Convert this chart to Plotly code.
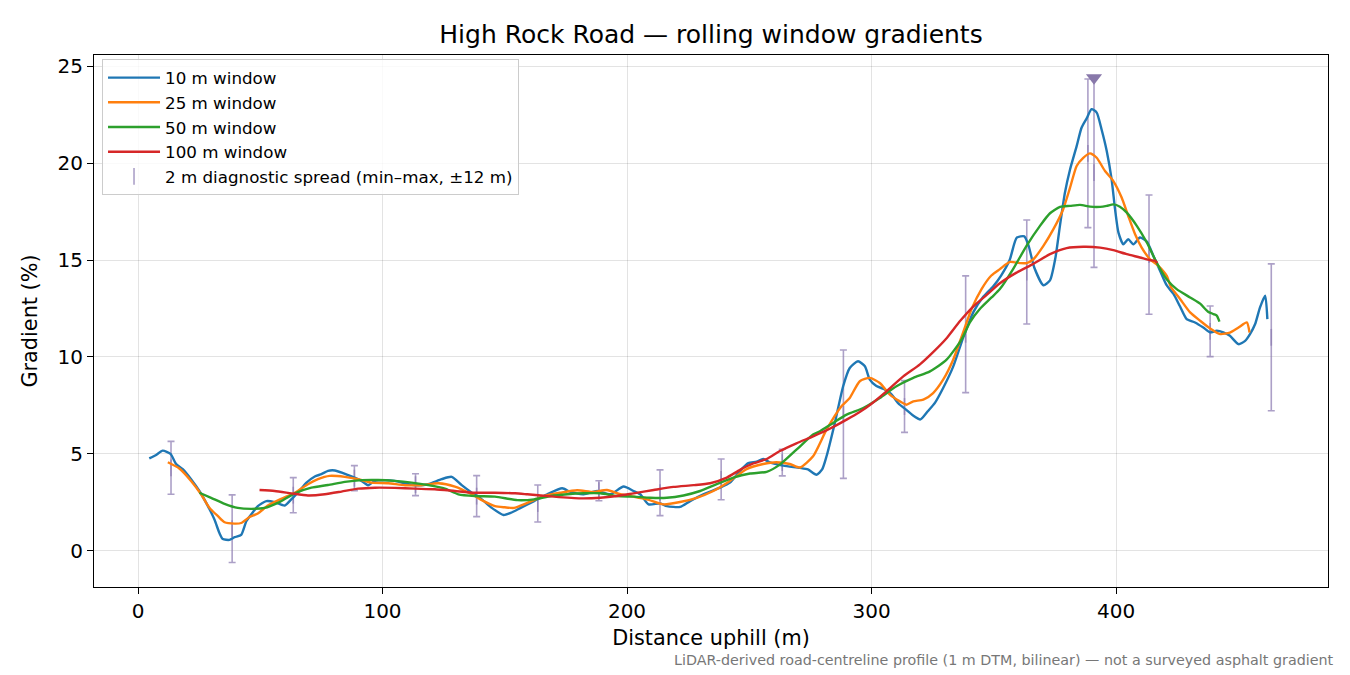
import plotly.graph_objects as go

# ---------------- data ----------------
dist_10 = [4.6, 7.4, 10.1, 13.3, 15.6, 18.3, 21.7, 25.1, 28.6, 31.3, 33.3, 34.7, 37.4, 39.5, 42.2, 44.3,
           46.3, 49.0, 52.5, 55.9, 60.0, 62.7, 65.4, 68.9, 72.3, 75.0, 77.7, 80.5, 83.9, 87.3, 91.4, 94.1,
           96.9, 101, 105, 110.5, 114.6, 118.7, 124.2, 128.3, 132.4, 136.5, 140.6, 144.7, 149.5, 152.4,
           156.5, 162, 167.4, 173.5, 176.9, 182.3, 187.8, 193.2, 198.6, 202.7, 205.4, 208.8, 213.6, 216.3,
           221.7, 225.8, 231.2, 238, 242.1, 246.2, 249.6, 253, 255.7, 258.4, 263.9, 270.7, 274, 277.5,
           279.8, 281.6, 285, 288.4, 291.1, 294.5, 297.3, 299.3, 302, 305, 308, 311, 314, 317, 320, 323,
           326, 329.3, 333.4, 337.5, 341.6, 345.7, 349.8, 353, 356.5, 359.4, 362.5, 364.2, 366.6, 370.3,
           373, 375.2, 377.1, 379.1, 381.2, 383.9, 385.9, 388, 390, 392.1, 394.1, 396.2, 398.2, 399.6,
           401, 403, 405, 407.1, 409.8, 412.6, 415.3, 418, 420.7, 423.5, 426.2, 428.9, 432.3, 435.7,
           438.5, 441.2, 443.9, 446.6, 450.1, 452.8, 454.8, 456.9, 458.9, 461, 461.9]
grad_10 = [4.77, 4.95, 5.17, 5.0, 4.48, 4.22, 3.70, 3.09, 2.31, 1.61, 0.92, 0.61, 0.57, 0.71, 0.83, 1.53,
           1.88, 2.31, 2.57, 2.52, 2.34, 2.66, 3.0, 3.52, 3.84, 3.96, 4.13, 4.15, 4.01, 3.84, 3.61, 3.39,
           3.61, 3.65, 3.61, 3.44, 3.39, 3.44, 3.70, 3.82, 3.39, 3.0, 2.66, 2.22, 1.85, 1.96,
           2.22, 2.57, 2.92, 3.23, 3.04, 2.92, 3.09, 2.92, 3.32, 3.09, 2.92, 2.40, 2.45, 2.31,
           2.27, 2.57, 2.92, 3.26, 3.52, 4.13, 4.53, 4.60, 4.74, 4.57, 4.40, 4.28, 4.2, 3.93,
           4.2, 4.88, 6.6, 8.49, 9.43, 9.78, 9.52, 8.83, 8.5, 8.35, 8.1, 7.6, 7.3, 6.98, 6.78, 7.2,
           7.65, 8.4, 9.5, 11.0, 12.3, 13.1, 13.65, 14.2, 15.0, 16.15, 16.22, 15.75, 14.6, 13.7,
           13.95, 15.1, 16.8, 18.47, 19.67, 20.87, 21.82, 22.3, 22.78, 22.6, 21.73, 20.62, 19.16, 17.62,
           16.41, 15.81, 16.07, 15.81, 16.16, 15.95, 15.21, 14.45, 13.7, 13.25, 12.6, 11.95, 11.78, 11.52,
           11.27, 11.35, 11.27, 11.09, 10.66, 10.83, 11.18, 11.7, 12.56, 13.16, 11.95]

dist_25 = [12.2, 16.9, 21.7, 25.8, 29.2, 32.7, 35.4, 39.5, 42.2, 45.6, 49.0, 53.1, 58.6, 64.1, 69.5, 73.6,
           78.4, 84.6, 90, 95.5, 102.3, 109.2, 116, 122.8, 129.6, 136.5, 140.6, 146, 150, 153.8, 159.2,
           166, 172.8, 179.6, 186.4, 191.8, 197.3, 202.7, 208.2, 214.9, 221.7, 228.5, 235.3, 242.1, 248.9,
           255.7, 261.1, 266.6, 270.7, 276.1, 281.6, 287.7, 291.1, 295.2, 299.3, 303.4, 307.5, 311.6,
           314.3, 317.1, 321.2, 325.2, 329.3, 333.4, 337, 341, 345, 349, 352.5, 356.6, 360.7, 363.4,
           366.2, 370.3, 374.4, 378.4, 381.2, 383.9, 386.6, 389.4, 392.1, 395.5, 398.9, 402.3, 405,
           407.8, 410.5, 413.9, 417.3, 420.7, 422.5, 426.2, 430.3, 434.4, 438.5, 442.6, 446.6, 450.1,
           453.5, 454.6]
grad_25 = [4.57, 4.25, 3.61, 2.92, 2.22, 1.79, 1.48, 1.41, 1.44, 1.75, 1.93, 2.34, 2.69, 3.0, 3.44, 3.70,
           3.87, 3.82, 3.70, 3.52, 3.49, 3.39, 3.39, 3.49, 3.32, 2.92, 2.62, 2.31, 2.25, 2.22, 2.48,
           2.83, 3.0, 3.13, 3.04, 3.14, 2.92, 2.80, 2.66, 2.40, 2.52, 2.74, 3.09, 3.61, 4.22,
           4.48, 4.57, 4.48, 4.30, 4.88, 6.25, 7.46, 7.89, 8.75, 8.92, 8.66, 8.06, 7.71,
           7.54, 7.71, 7.80, 8.14, 8.83, 9.86, 11.1, 12.5, 13.5, 14.2, 14.53, 14.9, 14.84, 14.84,
           15.04, 15.73, 16.59, 17.62, 18.73, 19.85, 20.27, 20.5, 20.27, 19.59, 19.07, 18.22, 17.27,
           16.33, 15.64, 15.04, 14.7, 14.19, 13.6, 12.99, 12.30, 11.87, 11.47, 11.18, 11.26, 11.52,
           11.78, 11.26]

dist_50 = [25.1, 29.9, 35.4, 40.8, 46.3, 51.8, 57.2, 64.1, 70.9, 77.7, 84.6, 91.4, 98.2, 105, 111.9,
           118.7, 125.5, 131, 137.8, 146, 155.2, 162, 168.8, 175.5, 182.3, 189.1, 195.9, 202.7, 209.5,
           216.3, 223.1, 229.9, 236.7, 243.5, 250.3, 257.1, 262.5, 269.3, 276.1, 278.9, 284.3, 289.8,
           296.6, 303.4, 310.2, 317.1, 323.9, 330.7, 336.8, 340.3, 344.3, 349.1, 352.5, 357.9, 363.4,
           368.9, 373, 377.1, 381.2, 385.3, 389.4, 393.5, 396.2, 398.9, 401.6, 404.4, 408.5, 412.6,
           416.6, 420.7, 424.8, 430.3, 434.4, 437.5, 439.9, 441.2, 442.3]
grad_50 = [3.0, 2.74, 2.43, 2.22, 2.17, 2.22, 2.48, 2.97, 3.26, 3.40, 3.56, 3.65, 3.66, 3.61, 3.52,
           3.39, 3.21, 2.92, 2.83, 2.80, 2.62, 2.66, 2.83, 2.92, 2.97, 2.97, 2.83, 2.80, 2.74,
           2.74, 2.86, 3.09, 3.44, 3.78, 3.99, 4.08, 4.45, 5.22, 6.0, 6.17, 6.60, 7.03,
           7.37, 7.89, 8.49, 8.92, 9.26, 9.86, 10.9, 11.8, 12.47, 13.07, 13.5, 14.53, 15.73,
           16.76, 17.41, 17.74, 17.79, 17.84, 17.75, 17.74, 17.79, 17.87, 17.75, 17.44, 16.76, 15.9,
           14.87, 14.01, 13.5, 13.07, 12.75, 12.35, 12.21, 12.13, 11.82]

dist_100 = [49.7, 55.9, 62.7, 69.5, 76.4, 83.2, 90, 96.9, 105, 113.3, 121.4, 129.6, 137.8, 146, 154.2,
            159.2, 170.1, 181, 189.1, 195.9, 202.7, 210.9, 219, 227.2, 234, 240.8, 246.2, 251.6, 257.1,
            262.5, 269.3, 276.1, 282.9, 289.8, 295, 300, 306.1, 313, 319.8, 325.2, 330.8, 336.2, 341.6,
            347.1, 352.5, 359.3, 366.2, 373, 379.8, 386.6, 393.5, 398.9, 404.4, 409.8, 413.9, 416, 416.9]
grad_100 = [3.14, 3.09, 2.97, 2.86, 2.92, 3.06, 3.21, 3.26, 3.25, 3.21, 3.18, 3.09, 3.0, 3.0, 2.97,
            2.92, 2.80, 2.71, 2.74, 2.83, 2.97, 3.14, 3.30, 3.39, 3.49, 3.78, 4.18, 4.51, 4.74,
            5.15, 5.55, 5.91, 6.3, 6.77, 7.15, 7.59, 8.23, 9.0, 9.62, 10.25, 10.98, 11.85, 12.6,
            13.2, 13.8, 14.35, 14.8, 15.3, 15.61, 15.68, 15.64, 15.51, 15.3, 15.13, 14.99, 14.96, 14.84]

# 2 m diagnostic spread (min-max within +/-12 m)
spread_x = [13.5, 38.5, 63.5, 88.5, 113.5, 138.5, 163.5, 188.5, 213.5, 238.5, 263.5, 288.5, 313.5,
            338.5, 363.5, 388.5, 391.0, 413.5, 438.5, 463.5]
spread_min = [2.92, -0.6, 1.97, 3.11, 2.85, 1.77, 1.49, 2.59, 1.82, 2.64, 3.87, 3.74, 6.11,
              8.16, 11.7, 16.67, 14.62, 12.2, 10.02, 7.23]
spread_max = [5.65, 2.89, 3.78, 4.40, 3.98, 3.88, 3.40, 3.62, 4.18, 4.74, 5.24, 10.36, 8.78,
              14.18, 17.06, 24.33, 24.4, 18.35, 12.63, 14.8]

peak_x = [391.0]
peak_y = [24.4]

series = [
    ("10 m window", dist_10, grad_10, "#1f77b4"),
    ("25 m window", dist_25, grad_25, "#ff7f0e"),
    ("50 m window", dist_50, grad_50, "#2ca02c"),
    ("100 m window", dist_100, grad_100, "#d62728"),
]

FONT = "DejaVu Sans"
SPREAD_COL = "rgba(140,124,178,0.72)"

fig = go.Figure()

spread_mid = [(a + b) / 2 for a, b in zip(spread_min, spread_max)]
fig.add_trace(go.Scatter(
    x=spread_x, y=spread_mid, mode="markers",
    name="2 m diagnostic spread (min–max, ±12 m)",
    marker=dict(symbol="line-ns-open", size=12, color=SPREAD_COL, line=dict(width=1.6, color=SPREAD_COL)),
    error_y=dict(type="data", symmetric=False,
                 array=[b - m for b, m in zip(spread_max, spread_mid)],
                 arrayminus=[m - a for a, m in zip(spread_min, spread_mid)],
                 color=SPREAD_COL, thickness=1.6, width=3.5),
    legendrank=5, legendgroup="e",
))

for i, (name, xs, ys, col) in enumerate(series):
    fig.add_trace(go.Scatter(x=xs, y=ys, mode="lines", name=name,
                             line=dict(color=col, width=2.4, shape="spline", smoothing=0.6),
                             legendrank=i + 1, legendgroup=f"g{i}"))

fig.add_trace(go.Scatter(x=peak_x, y=peak_y, mode="markers", showlegend=False,
                         marker=dict(symbol="triangle-down", size=14, color="#8878aa")))

fig.update_layout(
    width=1350, height=675,
    margin=dict(l=94, r=22, t=55, b=88),
    paper_bgcolor="white", plot_bgcolor="white",
    font=dict(family=FONT, size=20.5, color="black"),
    title=dict(text="High Rock Road — rolling window gradients", x=0.5, xref="paper",
               y=1 - 34 / 675, yref="container", xanchor="center", yanchor="middle",
               font=dict(size=25, family=FONT)),
    legend=dict(x=0.0065, y=0.992, xanchor="left", yanchor="top",
                bgcolor="rgba(255,255,255,0.8)", bordercolor="#cccccc", borderwidth=1,
                font=dict(size=16.7, family=FONT), tracegroupgap=7.5, traceorder="normal",
                itemwidth=52),
    showlegend=True,
)

axis_common = dict(showline=True, linecolor="black", linewidth=1.2, mirror=True,
                   ticks="outside", ticklen=6, tickwidth=1.2, tickcolor="black",
                   showgrid=True, gridcolor="rgba(0,0,0,0.11)", gridwidth=1,
                   zeroline=False, automargin=False, tickfont=dict(size=20, family=FONT))

fig.update_xaxes(range=[-18, 486.7], tickvals=[0, 100, 200, 300, 400],
                 title=dict(text="Distance uphill (m)", standoff=8, font=dict(size=20.8)), **axis_common)
fig.update_yaxes(range=[-1.86, 25.57], tickvals=[0, 5, 10, 15, 20, 25],
                 title=dict(text="Gradient (%)", standoff=14, font=dict(size=20.8)), **axis_common)

fig.add_annotation(text="LiDAR-derived road-centreline profile (1 m DTM, bilinear) — not a surveyed asphalt gradient",
                   xref="paper", yref="paper", x=1.0065, y=-(660 - 587) / 532,
                   xanchor="right", yanchor="middle", showarrow=False,
                   font=dict(size=14.3, color="#777777", family=FONT))

fig.write_html("out.html", config={"displayModeBar": False},
               post_script="document.body.style.margin='0';document.body.style.overflow='hidden';")
